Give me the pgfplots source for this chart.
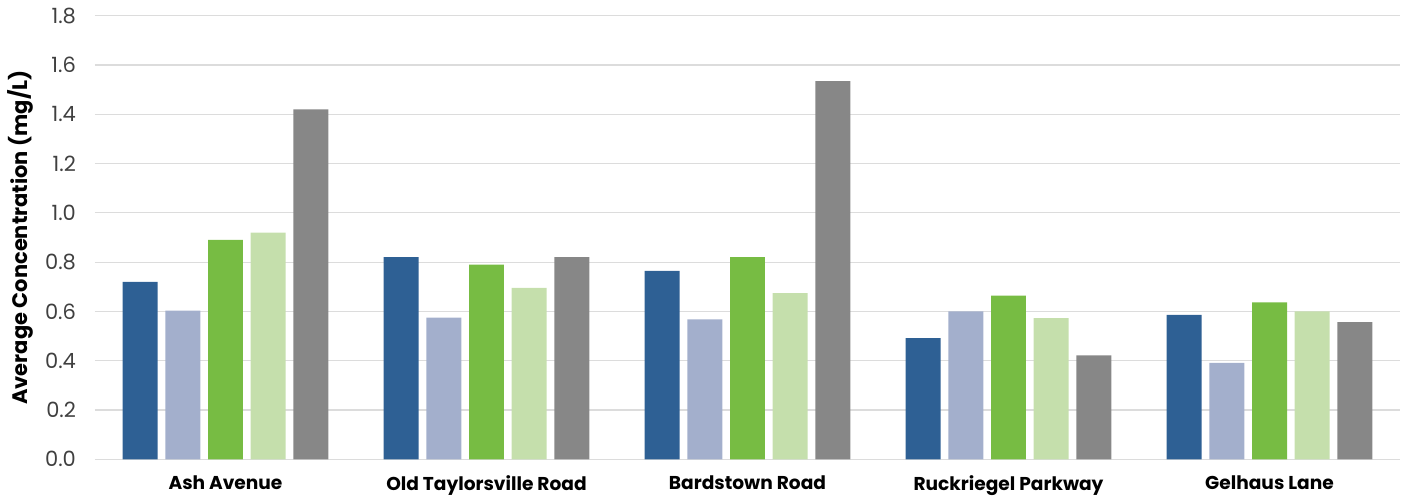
\documentclass[border=0pt]{standalone}
\usepackage{fontspec}
\setmainfont{Poppins}
\usepackage{pgfplots}
\pgfplotsset{compat=1.18}
\definecolor{c1}{HTML}{2E6094}
\definecolor{c2}{HTML}{A3AFCC}
\definecolor{c3}{HTML}{77BC43}
\definecolor{c4}{HTML}{C5DFAC}
\definecolor{c5}{HTML}{878787}
\definecolor{gridc}{HTML}{DCDCDC}
\definecolor{ticktext}{HTML}{404040}
\begin{document}
\begin{tikzpicture}
\useasboundingbox (-47.5pt,-20pt) rectangle (658pt,229.65pt);
\begin{axis}[
  scale only axis, width=652.5pt, height=221.8pt,
  xmin=-0.5, xmax=4.5, ymin=0, ymax=1.8,
  ybar, bar width=0.134,
  xtick={0,1,2,3,4},
  xticklabels={Ash Avenue, Old Taylorsville Road, Bardstown Road, Ruckriegel Parkway, Gelhaus Lane},
  xticklabel style={font=\bfseries\fontsize{9.3}{11}\selectfont, text=black, yshift=-0.5pt},
  ytick={0,0.2,0.4,0.6,0.8,1.0,1.2,1.4,1.6,1.8},
  yticklabel style={font=\fontsize{10.5}{12}\selectfont, text=ticktext, xshift=-6pt,
    /pgf/number format/.cd, fixed, fixed zerofill, precision=1, assume math mode=true},
  ylabel={Average Concentration (mg/L)},
  ylabel style={font=\bfseries\fontsize{10.5}{12}\selectfont, text=black, yshift=-1pt},
  ymajorgrids, major grid style={draw=gridc, line width=0.6pt},
  axis line style={draw=none}, tick style={draw=none},
  every axis plot/.append style={draw=none},
]
\addplot[fill=c1, bar shift=-0.3272] coordinates {(0,0.72) (1,0.82) (2,0.765) (3,0.492) (4,0.586)};
\addplot[fill=c2, bar shift=-0.1636] coordinates {(0,0.603) (1,0.575) (2,0.568) (3,0.60) (4,0.391)};
\addplot[fill=c3, bar shift=0] coordinates {(0,0.89) (1,0.79) (2,0.82) (3,0.664) (4,0.637)};
\addplot[fill=c4, bar shift=0.1636] coordinates {(0,0.92) (1,0.696) (2,0.674) (3,0.573) (4,0.60)};
\addplot[fill=c5, bar shift=0.3272] coordinates {(0,1.42) (1,0.82) (2,1.535) (3,0.422) (4,0.557)};
\end{axis}
\end{tikzpicture}
\end{document}
